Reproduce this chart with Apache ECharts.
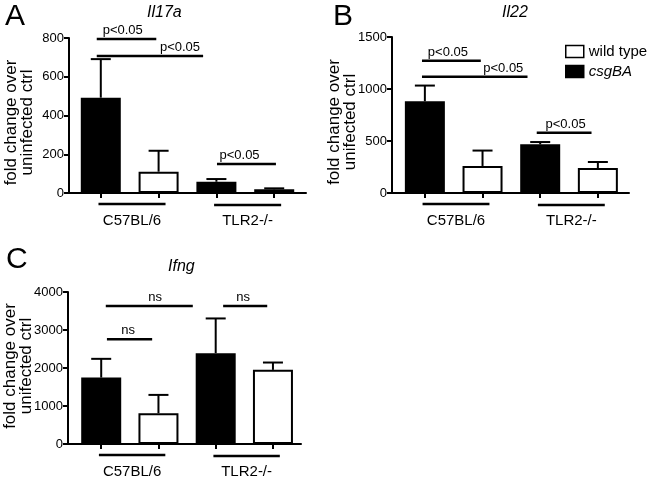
<!DOCTYPE html>
<html>
<head>
<meta charset="utf-8">
<script src="https://cdn.jsdelivr.net/npm/echarts@6/dist/echarts.min.js"></script>
<style>
html,body{margin:0;padding:0;background:#fff;}
#chart{width:650px;height:477px;}
</style>
</head>
<body>
<div id="chart"></div>
<script>
// ---- data ----
const groups = ['C57BL/6', 'TLR2-/-'];
const seriesNames = ['wild type', 'csgBA'];
const panelTitles = ['Il17a', 'Il22', 'Ifng'];
const panelLetters = ['A', 'B', 'C'];
const yNames = ['fold change over\nuninfected ctrl', 'fold change over\nunifected ctrl', 'fold change over\nunifected ctrl'];

const yTicksA = [0, 200, 400, 600, 800];
const yTicksB = [0, 500, 1000, 1500];
const yTicksC = [0, 1000, 2000, 3000, 4000];

// means and SEM per group (C57BL/6, TLR2-/-)
const il17aCsgBA = [492, 58];
const il17aCsgBAErr = [199, 14];
const il17aWT = [110, 19];
const il17aWTErr = [108, 5];

const il22CsgBA = [882, 468];
const il22CsgBAErr = [151, 22];
const il22WT = [260, 240];
const il22WTErr = [148, 58];

const ifngCsgBA = [1748, 2391];
const ifngCsgBAErr = [493, 913];
const ifngWT = [809, 1951];
const ifngWTErr = [483, 193];

// significance brackets: [fromBar, toBar, level, labelBar, text]
const sigA = [[-0.07, 0.96, 795, 0.38, 'p<0.05'], [-0.07, 1.77, 707, 1.37, 'p<0.05'], [2.01, 3.03, 150, 2.40, 'p<0.05']];
const sigB = [[-0.05, 0.97, 1272, 0.40, 'p<0.05'], [-0.05, 1.78, 1118, 1.36, 'p<0.05'], [1.94, 2.89, 580, 2.44, 'p<0.05']];
const sigC = [[0.08, 1.60, 3632, 0.94, 'ns'], [2.13, 2.90, 3632, 2.48, 'ns'], [0.10, 0.89, 2755, 0.47, 'ns']];

// ---- layout ----
const panels = [
  {grid: {left: 69, top: 38, width: 237, height: 155}, xr: [-0.55, 3.55], ticks: yTicksA, csg: il17aCsgBA, csgE: il17aCsgBAErr, wt: il17aWT, wtE: il17aWTErr, sig: sigA,
   title: {left: 142, top: 0}, letter: {left: 0, top: -3}, namePad: [0, 14, 0, 0]},
  {grid: {left: 392, top: 37, width: 237, height: 156}, xr: [-0.57, 3.54], ticks: yTicksB, csg: il22CsgBA, csgE: il22CsgBAErr, wt: il22WT, wtE: il22WTErr, sig: sigB,
   title: {left: 497, top: 0}, letter: {left: 328, top: -3}, namePad: [0, 14, 0, 0]},
  {grid: {left: 68, top: 292, width: 233, height: 152}, xr: [-0.58, 3.49], ticks: yTicksC, csg: ifngCsgBA, csgE: ifngCsgBAErr, wt: ifngWT, wtE: ifngWTErr, sig: sigC,
   title: {left: 163, top: 254}, letter: {left: 1, top: 240}, namePad: [0, 0, 0, 4]}
];

const FONT = '"Liberation Sans", Arial, sans-serif';
const chart = echarts.init(document.getElementById('chart'), null, {renderer: 'canvas'});

const grids = [], xAxes = [], yAxes = [], series = [], titles = [];
panels.forEach((p, i) => {
  grids.push(Object.assign({containLabel: false, outerBoundsMode: 'none'}, p.grid));
  xAxes.push({
    type: 'value', gridIndex: i, min: p.xr[0], max: p.xr[1],
    axisLine: {show: true, onZero: false, lineStyle: {color: '#000', width: 2}},
    axisTick: {show: true, length: 5, lineStyle: {color: '#000', width: 2}, customValues: [0, 1, 2, 3]},
    axisLabel: {show: false},
    splitLine: {show: false}
  });
  const t = p.ticks;
  yAxes.push({
    type: 'value', gridIndex: i, min: t[0], max: t[t.length - 1], interval: t[1] - t[0],
    name: yNames[i], nameLocation: 'middle', nameGap: 34, nameRotate: 90, nameMoveOverlap: false,
    nameTextStyle: {fontFamily: FONT, fontSize: 17, color: '#000', lineHeight: 16, padding: p.namePad},
    axisLine: {show: true, onZero: false, lineStyle: {color: '#000', width: 2}},
    axisTick: {show: true, length: 5, lineStyle: {color: '#000', width: 2}},
    axisLabel: {fontFamily: FONT, fontSize: 13, color: '#000', margin: 5, formatter: v => String(v)},
    splitLine: {show: false}
  });
  const csgData = p.csg.map((v, g) => [2 * g, v]);
  const wtData = p.wt.map((v, g) => [2 * g + 1, v]);
  series.push({
    name: 'csgBA', type: 'bar', xAxisIndex: i, yAxisIndex: i, data: csgData,
    barWidth: 40, barGap: '-100%',
    itemStyle: {color: '#000', borderColor: '#000', borderWidth: 2}, z: 2
  });
  series.push({
    name: 'wild type', type: 'bar', xAxisIndex: i, yAxisIndex: i, data: wtData,
    barWidth: 40, barGap: '-100%',
    itemStyle: {color: '#fff', borderColor: '#000', borderWidth: 2}, z: 2
  });
  const errData = [];
  p.csg.forEach((v, g) => { errData.push([2 * g, v, p.csgE[g]]); errData.push([2 * g + 1, p.wt[g], p.wtE[g]]); });
  series.push({
    type: 'custom', xAxisIndex: i, yAxisIndex: i, data: errData, z: 5, silent: true,
    renderItem: function (params, api) {
      const x = api.value(0), v = api.value(1), e = api.value(2);
      const a = api.coord([x, v]);
      const b = api.coord([x, v + e]);
      const st = {stroke: '#000', lineWidth: 2};
      return {type: 'group', children: [
        {type: 'line', shape: {x1: a[0], y1: a[1], x2: b[0], y2: b[1]}, style: st},
        {type: 'line', shape: {x1: b[0] - 10, y1: b[1], x2: b[0] + 10, y2: b[1]}, style: st}
      ]};
    }
  });
  titles.push({text: panelTitles[i], left: p.title.left, top: p.title.top,
    textStyle: {fontFamily: FONT, fontSize: 16, fontStyle: 'italic', fontWeight: 'normal', color: '#000'}});
  titles.push({text: panelLetters[i], left: p.letter.left, top: p.letter.top,
    textStyle: {fontFamily: FONT, fontSize: 30, fontWeight: 'normal', color: '#000'}});
});

chart.setOption({
  animation: false,
  backgroundColor: '#fff',
  title: titles,
  grid: grids, xAxis: xAxes, yAxis: yAxes, series: series,
  legend: {
    data: seriesNames, orient: 'vertical', left: 560, top: 39,
    itemWidth: 18, itemHeight: 12, itemGap: 5, selectedMode: false,
    icon: 'rect',
    textStyle: {fontFamily: FONT, fontSize: 15, color: '#000',
      rich: {i: {fontFamily: FONT, fontSize: 15, fontStyle: 'italic', color: '#000'}}},
    formatter: function (n) { return n === 'csgBA' ? '{i|' + n + '}' : n; },
    itemStyle: {borderColor: '#000', borderWidth: 1.5}
  }
});

// ---- annotations (positions from the library's scales) ----
const graphics = [];
panels.forEach((p, i) => {
  const px = v => chart.convertToPixel({xAxisIndex: i}, v);
  const py = v => chart.convertToPixel({yAxisIndex: i}, v);
  const y0 = py(0);
  p.sig.forEach(s => {
    const yy = py(s[2]);
    graphics.push({type: 'line', shape: {x1: px(s[0]), y1: yy, x2: px(s[1]), y2: yy}, style: {stroke: '#000', lineWidth: 2.5}});
    graphics.push({type: 'text', x: px(s[3]), y: yy - 2, style: {text: s[4], font: '13px ' + FONT, fill: '#000', textAlign: 'center', textVerticalAlign: 'bottom'}});
  });
  groups.forEach((gname, g) => {
    graphics.push({type: 'line', shape: {x1: px(2 * g - 0.04), y1: y0 + 11 + g, x2: px(2 * g + 1.12), y2: y0 + 11 + g}, style: {stroke: '#000', lineWidth: 2.5}});
    graphics.push({type: 'text', x: px(2 * g + 0.54), y: y0 + 28, style: {text: gname, font: '15px ' + FONT, fill: '#000', textAlign: 'center', textVerticalAlign: 'middle'}});
  });
});
chart.setOption({graphic: graphics});
</script>
</body>
</html>
